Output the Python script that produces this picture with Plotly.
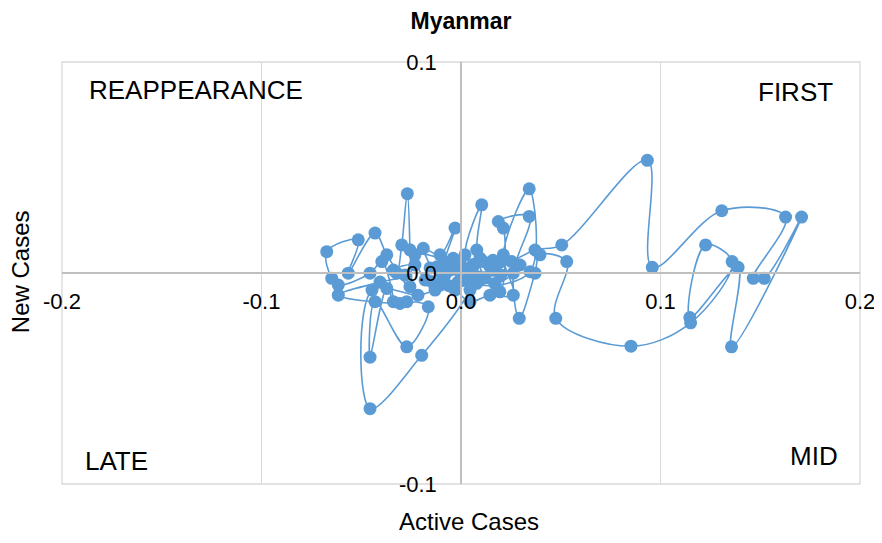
import plotly.graph_objects as go

# Active cases (x) and new cases (y) growth values, in time order
active_cases = [
    -0.0005, -0.0080, -0.0039, -0.0055, 0.0029, 0.0062, 0.0112, 0.0145, 0.0170, 0.0254,
    0.0371, 0.0505, 0.0934, 0.0959, 0.1307, 0.1627, 0.1465, 0.1520, 0.1707, 0.1356,
    0.1389, 0.1147, 0.1226, 0.1359, 0.1151, 0.0852, 0.0475, 0.0530, 0.0396, 0.0371,
    0.0292, 0.0262, 0.0342, 0.0187, 0.0212, 0.0195, 0.0120, 0.0079, 0.0104, 0.0020,
    0.0079, 0.0346, 0.0342, 0.0212, 0.0262, 0.0145, 0.0045, -0.0030, -0.0105, -0.0030,
    -0.0105, -0.0189, -0.0155, -0.0180, -0.0231, -0.0339, -0.0322, -0.0297, -0.0269, -0.0256,
    -0.0256, -0.0372, -0.0431, -0.0565, -0.0515, -0.0673, -0.0648, -0.0615, -0.0456, -0.0397,
    -0.0339, -0.0372, -0.0456, -0.0431, -0.0272, -0.0164, -0.0272, -0.0306, -0.0615, -0.0406,
    -0.0281, -0.0231, -0.0080, -0.0015, -0.0130, -0.0216, -0.0446, -0.0456, -0.0197, 0.0045,
    0.0095, 0.0195, 0.0296, 0.0170, 0.0045, -0.0120, -0.0060, 0.0100, 0.0160, -0.0150,
    0.0060, -0.0100, 0.0200, -0.0005,
]
new_cases = [
    0.0038, -0.0010, 0.0070, 0.0014, -0.0033, -0.0018, 0.0054, 0.0030, 0.0014, 0.0054,
    0.0109, 0.0133, 0.0534, 0.0027, 0.0295, 0.0265, -0.0025, -0.0025, 0.0265, -0.0350,
    0.0027, -0.0211, 0.0133, 0.0054, -0.0236, -0.0347, -0.0215, 0.0054, 0.0086, -0.0001,
    -0.0215, -0.0001, 0.0268, 0.0244, 0.0213, -0.0089, -0.0024, 0.0109, 0.0323, 0.0086,
    -0.0049, 0.0006, 0.0399, 0.0086, -0.0105, -0.0105, -0.0136, -0.0081, -0.0057, 0.0213,
    0.0086, 0.0117, 0.0024, -0.0033, 0.0038, 0.0014, -0.0001, 0.0133, 0.0376, 0.0110,
    -0.0065, 0.0086, 0.0189, -0.0001, 0.0157, 0.0101, -0.0025, -0.0057, -0.0001, 0.0054,
    -0.0136, -0.0073, -0.0399, -0.0136, -0.0350, -0.0160, -0.0136, -0.0144, -0.0105, -0.0043,
    -0.0010, 0.0086, 0.0052, -0.0043, -0.0081, -0.0105, -0.0081, -0.0643, -0.0390, -0.0081,
    0.0071, 0.0052, 0.0038, -0.0050, 0.0024, 0.0030, -0.0060, -0.0030, 0.0060, -0.0040,
    0.0040, 0.0000, -0.0010, 0.0020,
]

x_ticks = [-0.2, -0.1, 0.0, 0.1, 0.2]
y_ticks = [-0.1, 0.0, 0.1]

quadrants = ["REAPPEARANCE", "FIRST", "LATE", "MID"]

FONT = "Liberation Sans, Arial, sans-serif"
BLUE = "#5B9BD5"

fig = go.Figure()
fig.add_trace(go.Scatter(
    x=active_cases, y=new_cases, mode="lines+markers",
    line=dict(color=BLUE, width=1.6, shape="spline", smoothing=1.0),
    marker=dict(color=BLUE, size=13),
    showlegend=False, hoverinfo="skip",
))

# the page body adds an 8px offset, so margins are reduced on top/left
fig.update_layout(
    template="none",
    width=882, height=543,
    margin=dict(l=54, r=30, t=54, b=67, autoexpand=False),
    paper_bgcolor="white", plot_bgcolor="white",
    font=dict(family=FONT, color="black"),
    title=dict(text="<b>Myanmar</b>", x=0.5136, xanchor="center", y=0.991, yanchor="top",
               font=dict(size=23, family=FONT, color="black")),
    xaxis=dict(range=[-0.2, 0.2], tickvals=x_ticks, ticktext=[f"{v:.1f}" for v in x_ticks],
               showgrid=True, gridcolor="#d9d9d9", gridwidth=1.3, zeroline=False,
               showline=True, linecolor="#bfbfbf", linewidth=1.5, automargin=False,
               anchor="free", position=0.5, ticks="", ticklabelstandoff=9,
               tickfont=dict(size=22, family=FONT, color="black"), fixedrange=True),
    yaxis=dict(range=[-0.1, 0.1], tickvals=y_ticks, ticktext=[f"{v:.1f}" for v in y_ticks],
               showgrid=True, gridcolor="#d9d9d9", gridwidth=1.3, zeroline=False,
               showline=True, linecolor="#bfbfbf", linewidth=1.5, automargin=False,
               anchor="free", position=0.5, ticks="", ticklabelstandoff=19,
               tickfont=dict(size=22, family=FONT, color="black"), fixedrange=True),
    shapes=[dict(type="rect", xref="paper", yref="paper", x0=0, y0=0, x1=1, y1=1,
                 line=dict(color="#d9d9d9", width=1.3), layer="below")],
)

qpos = [(0.0313, 0.9336, "left"), (0.9687, 0.9289, "right"),
        (0.0263, 0.0545, "left"), (0.975, 0.0664, "right")]
for label, (qx, qy, anc) in zip(quadrants, qpos):
    fig.add_annotation(text=label, x=qx, y=qy, xref="paper", yref="paper",
                       xanchor=anc, yanchor="middle", showarrow=False,
                       font=dict(size=26, family=FONT, color="black"))

fig.add_annotation(text="New Cases", x=-0.0526, y=0.502, xref="paper", yref="paper",
                   textangle=-90, showarrow=False, xanchor="center", yanchor="middle",
                   font=dict(size=24, family=FONT, color="black"))
fig.add_annotation(text="Active Cases", x=0.51, y=-0.090, xref="paper", yref="paper",
                   showarrow=False, xanchor="center", yanchor="middle",
                   font=dict(size=24, family=FONT, color="black"))

fig.write_html("out.html")
